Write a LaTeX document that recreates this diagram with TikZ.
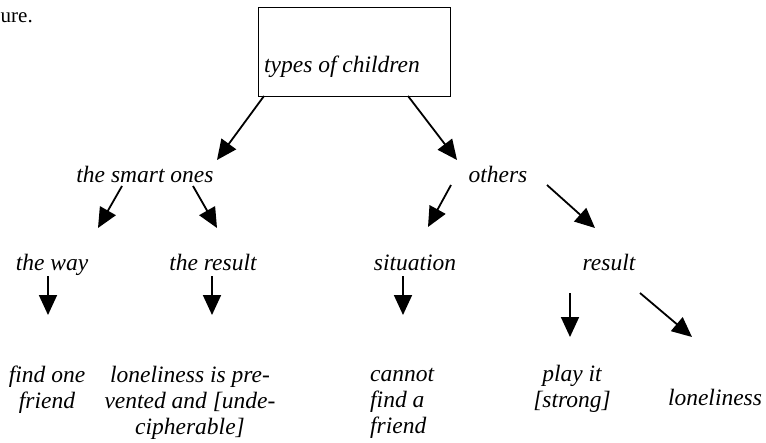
\documentclass[tikz,border=0pt]{standalone}
\usepackage{fontspec}
\setmainfont{Liberation Serif}
\usetikzlibrary{arrows.meta}
\begin{document}
\begin{tikzpicture}[x=1pt,y=-1pt,
  lbl/.style={font=\fontsize{23.5}{26}\selectfont\itshape, inner sep=0pt, anchor=base},
  mlbl/.style={lbl, align=center},
  box/.style={draw, line width=0.9pt, minimum width=192pt, minimum height=89pt, inner sep=0pt},
  arr/.style={line width=1.8pt, -{Triangle[length=20pt,width=18pt]}}]
\useasboundingbox (0,0) rectangle (766,442);
\node[font=\fontsize{21}{26}\selectfont, inner sep=0pt, anchor=base west] (frag) at (0.5,22) {ure.};
\node[box] (top) at (354,51.5) {};
\node[lbl] (topt) at (342,72) {types of children};
\node[lbl] (smart) at (145,182) {the smart ones};
\node[lbl] (others) at (498,182) {others};
\node[lbl] (way) at (52,270) {the way};
\node[lbl] (res1) at (213,270) {the result};
\node[lbl] (sit) at (415,270) {situation};
\node[lbl] (res2) at (609,270) {result};
% multi-line nodes: base anchor is the baseline of the last line
\node[mlbl] (find) at (47,408) {find one\\friend};
\node[mlbl] (lon1) at (190,434) {loneliness is pre-\\vented and [unde-\\cipherable]};
\node[lbl, align=left, anchor=base west] (cannot) at (370,433) {cannot\\find a\\friend};
\node[mlbl] (play) at (572,407) {play it\\{[strong]}};
\node[lbl] (lon2) at (715,405) {loneliness};
% arrow end points
\coordinate (t1) at (264,96);   \coordinate (h1) at (217,160);
\coordinate (t2) at (408,96);   \coordinate (h2) at (457,160);
\coordinate (t3) at (122,186);  \coordinate (h3) at (98,228);
\coordinate (t4) at (193,186);  \coordinate (h4) at (217,228);
\coordinate (t5) at (451,185);  \coordinate (h5) at (428,227);
\coordinate (t6) at (547,185);  \coordinate (h6) at (595,228);
\coordinate (t7) at (48,276);   \coordinate (h7) at (48,315);
\coordinate (t8) at (212,276);  \coordinate (h8) at (212,315);
\coordinate (t9) at (403,276);  \coordinate (h9) at (403,315);
\coordinate (t10) at (570,293); \coordinate (h10) at (570,337);
\coordinate (t11) at (640,293); \coordinate (h11) at (692,337);
\foreach \i in {1,...,11} \draw[arr] (t\i) -- (h\i);
\end{tikzpicture}
\end{document}
